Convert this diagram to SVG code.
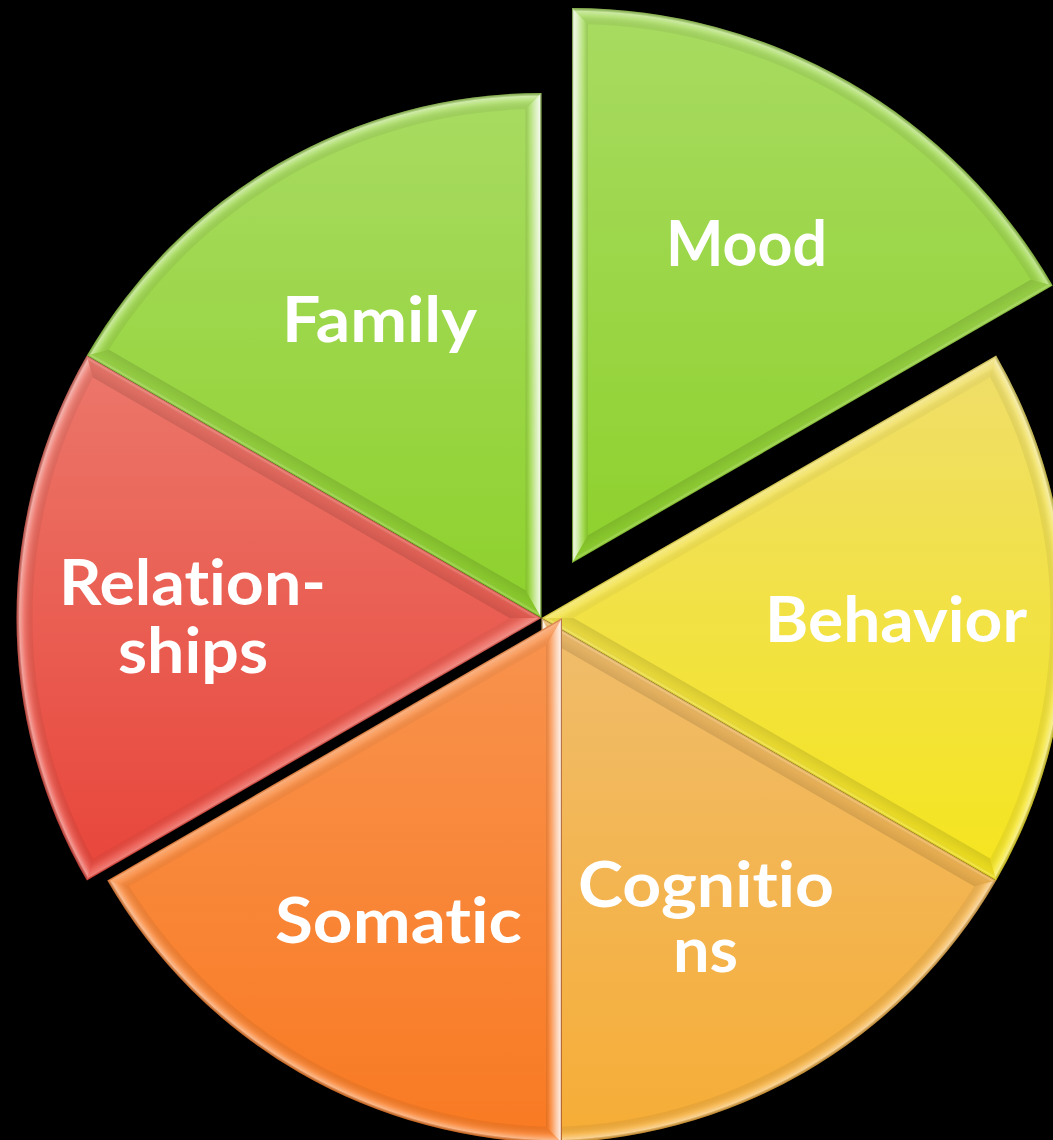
<svg xmlns="http://www.w3.org/2000/svg" width="1053" height="1140" viewBox="0 0 1053 1140">
  <defs>
    <style>
      .label { font-family: Lato, "Liberation Sans", sans-serif; font-weight: bold; font-size: 63px; fill: #ffffff; font-variant-ligatures: none; }
    </style>
    <!-- base fills, light at the top and deeper at the bottom -->
    <linearGradient id="fGreen" x1="0" y1="0" x2="0" y2="1">
      <stop offset="0" stop-color="#a8db62"/>
      <stop offset="1" stop-color="#8ed12c"/>
    </linearGradient>
    <linearGradient id="fRed" x1="0" y1="0" x2="0" y2="1">
      <stop offset="0" stop-color="#ec776b"/>
      <stop offset="1" stop-color="#e8453a"/>
    </linearGradient>
    <linearGradient id="fOrange" x1="0" y1="0" x2="0" y2="1">
      <stop offset="0" stop-color="#f8934f"/>
      <stop offset="1" stop-color="#f97a22"/>
    </linearGradient>
    <linearGradient id="fGold" x1="0" y1="0" x2="0" y2="1">
      <stop offset="0" stop-color="#f0bd6c"/>
      <stop offset="1" stop-color="#f6ad36"/>
    </linearGradient>
    <linearGradient id="fYellow" x1="0" y1="0" x2="0" y2="1">
      <stop offset="0" stop-color="#efde6a"/>
      <stop offset="1" stop-color="#f5e51e"/>
    </linearGradient>

    <!-- bevel overlays: shading runs from the outer edge (0) to the inner edge (1) -->
    <linearGradient id="hi1" gradientUnits="userSpaceOnUse" x1="0" y1="0" x2="8" y2="13.86">
      <stop offset="0" stop-color="#000" stop-opacity="0.18"/>
      <stop offset="0.1" stop-color="#fff" stop-opacity="0.85"/>
      <stop offset="0.35" stop-color="#fff" stop-opacity="0.6"/>
      <stop offset="0.75" stop-color="#fff" stop-opacity="0.12"/>
      <stop offset="1" stop-color="#000" stop-opacity="0.08"/>
    </linearGradient>
    <linearGradient id="hi2" href="#hi1" x2="8" y2="-13.86"/>
    <linearGradient id="dk1" gradientUnits="userSpaceOnUse" x1="0" y1="0" x2="8" y2="13.86">
      <stop offset="0" stop-color="#000" stop-opacity="0.15"/>
      <stop offset="0.12" stop-color="#fff" stop-opacity="0.18"/>
      <stop offset="0.35" stop-color="#000" stop-opacity="0.05"/>
      <stop offset="1" stop-color="#000" stop-opacity="0.12"/>
    </linearGradient>
    <linearGradient id="dk2" href="#dk1" x2="8" y2="-13.86"/>
    <linearGradient id="md1" gradientUnits="userSpaceOnUse" x1="0" y1="0" x2="8" y2="13.86">
      <stop offset="0" stop-color="#000" stop-opacity="0.12"/>
      <stop offset="0.12" stop-color="#fff" stop-opacity="0.3"/>
      <stop offset="0.5" stop-color="#fff" stop-opacity="0.12"/>
      <stop offset="1" stop-color="#000" stop-opacity="0.03"/>
    </linearGradient>
    <linearGradient id="md2" href="#md1" x2="8" y2="-13.86"/>
    <radialGradient id="arc525" gradientUnits="userSpaceOnUse" cx="0" cy="0" r="525">
      <stop offset="0.9695" stop-color="#000" stop-opacity="0.05"/>
      <stop offset="0.985" stop-color="#fff" stop-opacity="0.15"/>
      <stop offset="0.994" stop-color="#fff" stop-opacity="0.45"/>
      <stop offset="1" stop-color="#000" stop-opacity="0.2"/>
    </radialGradient>
    <radialGradient id="arc555" gradientUnits="userSpaceOnUse" cx="0" cy="0" r="555">
      <stop offset="0.9712" stop-color="#000" stop-opacity="0.05"/>
      <stop offset="0.986" stop-color="#fff" stop-opacity="0.15"/>
      <stop offset="0.994" stop-color="#fff" stop-opacity="0.4"/>
      <stop offset="1" stop-color="#000" stop-opacity="0.2"/>
    </radialGradient>
  </defs>

  <rect width="1053" height="1140" fill="#000"/>

  <!-- Cognitions (drawn first, Somatic overlaps its left edge) -->
  <g id="cognitions">
    <path d="M541.5,618 L996.16,880.5 A525,525 0 0 1 541.5,1143 Z" fill="url(#fGold)"/>
    <g transform="translate(541.5,618) rotate(60)">
      <path d="M0,0 L454.66,-262.5 L448.58,-240.51 L32,0 Z" fill="url(#dk1)"/>
      <path d="M454.66,-262.5 A525,525 0 0 1 454.66,262.5 L448.58,240.51 A509,509 0 0 0 448.58,-240.51 Z" fill="url(#arc525)"/>
      <path d="M0,0 L32,0 L448.58,240.51 L454.66,262.5 Z" fill="url(#hi2)"/>
    </g>
    <text class="label" x="578" y="907" textLength="256" lengthAdjust="spacingAndGlyphs">Cognitio</text>
    <text class="label" x="673" y="972" textLength="65" lengthAdjust="spacingAndGlyphs">ns</text>
  </g>

  <!-- Behavior -->
  <g id="behavior">
    <path d="M541.5,618 L996.16,355.5 A525,525 0 0 1 996.16,880.5 Z" fill="url(#fYellow)"/>
    <g transform="translate(541.5,618)">
      <path d="M0,0 L454.66,-262.5 L448.58,-240.51 L32,0 Z" fill="url(#md1)"/>
      <path d="M454.66,-262.5 A525,525 0 0 1 454.66,262.5 L448.58,240.51 A509,509 0 0 0 448.58,-240.51 Z" fill="url(#arc525)"/>
      <path d="M0,0 L32,0 L448.58,240.51 L454.66,262.5 Z" fill="url(#dk2)"/>
    </g>
    <text class="label" x="765" y="642" textLength="262" lengthAdjust="spacingAndGlyphs">Behavior</text>
  </g>

  <!-- Somatic -->
  <g id="somatic">
    <path d="M562,618 L562,1143 A525,525 0 0 1 107.34,880.5 Z" fill="url(#fOrange)"/>
    <g transform="translate(562,618) rotate(120)">
      <path d="M0,0 L454.66,-262.5 L448.58,-240.51 L32,0 Z" fill="url(#hi1)"/>
      <path d="M454.66,-262.5 A525,525 0 0 1 454.66,262.5 L448.58,240.51 A509,509 0 0 0 448.58,-240.51 Z" fill="url(#arc525)"/>
      <path d="M0,0 L32,0 L448.58,240.51 L454.66,262.5 Z" fill="url(#md2)"/>
    </g>
    <text class="label" x="275" y="943" textLength="247" lengthAdjust="spacingAndGlyphs">Somatic</text>
  </g>

  <!-- Relationships -->
  <g id="relationships">
    <path d="M541.5,618 L86.84,880.5 A525,525 0 0 1 86.84,355.5 Z" fill="url(#fRed)"/>
    <g transform="translate(541.5,618) rotate(180)">
      <path d="M0,0 L454.66,-262.5 L448.58,-240.51 L32,0 Z" fill="url(#md1)"/>
      <path d="M454.66,-262.5 A525,525 0 0 1 454.66,262.5 L448.58,240.51 A509,509 0 0 0 448.58,-240.51 Z" fill="url(#arc525)"/>
      <path d="M0,0 L32,0 L448.58,240.51 L454.66,262.5 Z" fill="url(#dk2)"/>
    </g>
    <text class="label" x="59" y="605" textLength="267" lengthAdjust="spacingAndGlyphs">Relation-</text>
    <text class="label" x="118" y="673" textLength="150" lengthAdjust="spacingAndGlyphs">ships</text>
  </g>

  <!-- Family -->
  <g id="family">
    <path d="M541.5,618 L86.84,355.5 A525,525 0 0 1 541.5,93 Z" fill="url(#fGreen)"/>
    <g transform="translate(541.5,618) rotate(-120)">
      <path d="M0,0 L454.66,-262.5 L448.58,-240.51 L32,0 Z" fill="url(#dk1)"/>
      <path d="M454.66,-262.5 A525,525 0 0 1 454.66,262.5 L448.58,240.51 A509,509 0 0 0 448.58,-240.51 Z" fill="url(#arc525)"/>
      <path d="M0,0 L32,0 L448.58,240.51 L454.66,262.5 Z" fill="url(#hi2)"/>
    </g>
    <text class="label" x="282" y="342" textLength="195" lengthAdjust="spacingAndGlyphs">Family</text>
  </g>

  <!-- Mood (pulled out of the pie and slightly larger) -->
  <g id="mood">
    <path d="M572,563 L572,8 A555,555 0 0 1 1052.64,285.5 Z" fill="url(#fGreen)"/>
    <g transform="translate(572,563) rotate(-60)">
      <path d="M0,0 L480.64,-277.5 L474.57,-255.52 L32,0 Z" fill="url(#hi1)"/>
      <path d="M480.64,-277.5 A555,555 0 0 1 480.64,277.5 L474.57,255.52 A539,539 0 0 0 474.57,-255.52 Z" fill="url(#arc555)"/>
      <path d="M0,0 L32,0 L474.57,255.52 L480.64,277.5 Z" fill="url(#dk2)"/>
    </g>
    <text class="label" x="666" y="266" textLength="161" lengthAdjust="spacingAndGlyphs">Mood</text>
  </g>

  <!-- the slices touch without connecting lines -->
  <g id="connectors"/>
</svg>
